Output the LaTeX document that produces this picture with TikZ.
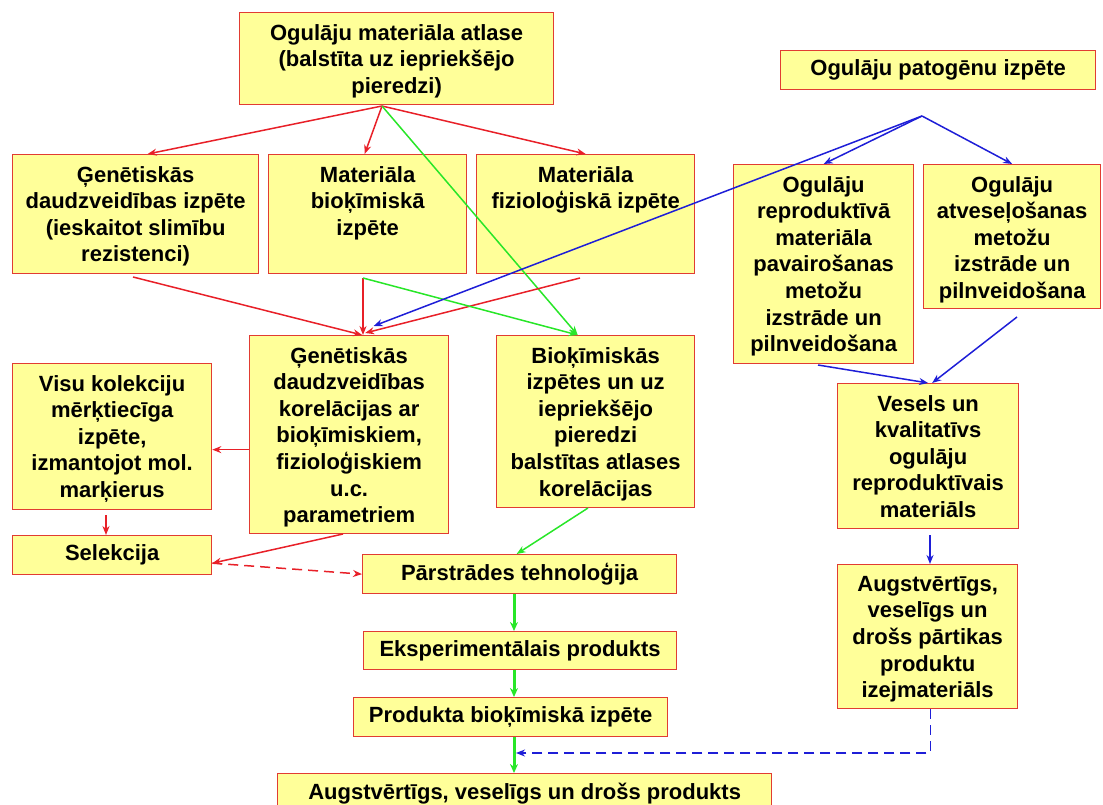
\documentclass[tikz,border=0pt]{standalone}
\usepackage{fontspec}
\setmainfont{Liberation Sans}
\usetikzlibrary{arrows.meta}
\definecolor{boxfill}{RGB}{255,255,153}
\definecolor{boxline}{RGB}{225,60,50}
\definecolor{lred}{RGB}{232,32,40}
\definecolor{lgreen}{RGB}{40,230,40}
\definecolor{lblue}{RGB}{30,30,215}
\begin{document}
\begin{tikzpicture}[x=1pt,y=-1pt,
  box/.style={draw=boxline, fill=boxfill, line width=1.3pt, inner sep=0pt, anchor=north west},
  txt/.style={font=\fontsize{22}{26.6}\selectfont\bfseries, align=center, inner sep=0pt, anchor=north},
  ctxt/.style={font=\fontsize{22}{26.6}\selectfont\bfseries, align=center, inner sep=0pt},
  tipa/.style={-{Stealth[length=9pt,width=7pt]}},
  redar/.style={tipa, draw=lred, line width=1.5pt},
  greenar/.style={tipa, draw=lgreen, line width=1.5pt},
  greenthick/.style={-{Stealth[length=9pt,width=8pt]}, draw=lgreen, line width=3pt},
  bluear/.style={tipa, draw=lblue, line width=1.5pt},
  dashpat/.style={dash pattern=on 10pt off 6pt}
]
\useasboundingbox (0,0) rectangle (1103,805);
\clip (0,0) rectangle (1103,805);

% boxes
\node[box, minimum width=314pt, minimum height=92pt] (top) at (239,12) {};
\node[txt] (topt) at ([yshift=-12pt]top.north) {Ogulāju materiāla atlase\\(balstīta uz iepriekšējo\\pieredzi)};

\node[box, minimum width=315pt, minimum height=39pt] (pat) at (780,50) {};
\node[ctxt] (patt) at (pat.center) {Ogulāju patogēnu izpēte};

\node[box, minimum width=246pt, minimum height=119pt] (A) at (12,154) {};
\node[txt] (At) at ([yshift=-12pt]A.north) {Ģenētiskās\\daudzveidības izpēte\\(ieskaitot slimību\\rezistenci)};

\node[box, minimum width=198pt, minimum height=119pt] (B) at (268,154) {};
\node[txt] (Bt) at ([yshift=-12pt]B.north) {Materiāla\\bioķīmiskā\\izpēte};

\node[box, minimum width=218pt, minimum height=119pt] (C) at (476,154) {};
\node[txt] (Ct) at ([yshift=-12pt]C.north) {Materiāla\\fizioloģiskā izpēte};

\node[box, minimum width=180pt, minimum height=199pt] (R1) at (733,164) {};
\node[txt] (R1t) at ([yshift=-12pt]R1.north) {Ogulāju\\reproduktīvā\\materiāla\\pavairošanas\\metožu\\izstrāde un\\pilnveidošana};

\node[box, minimum width=177pt, minimum height=144pt] (R2) at (923,164) {};
\node[txt] (R2t) at ([yshift=-12pt]R2.north) {Ogulāju\\atveseļošanas\\metožu\\izstrāde un\\pilnveidošana};

\node[box, minimum width=199pt, minimum height=198pt] (K) at (249,335) {};
\node[txt] (Kt) at ([yshift=-12pt]K.north) {Ģenētiskās\\daudzveidības\\korelācijas ar\\bioķīmiskiem,\\fizioloģiskiem\\u.c.\\parametriem};

\node[box, minimum width=198pt, minimum height=172pt] (Bio) at (496,335) {};
\node[txt] (Biot) at ([yshift=-12pt]Bio.north) {Bioķīmiskās\\izpētes un uz\\iepriekšējo\\pieredzi\\balstītas atlases\\korelācijas};

\node[box, minimum width=199pt, minimum height=146pt] (Visu) at (12,363) {};
\node[txt] (Visut) at ([yshift=-12pt]Visu.north) {Visu kolekciju\\mērķtiecīga\\izpēte,\\izmantojot mol.\\marķierus};

\node[box, minimum width=199pt, minimum height=39pt] (Sel) at (12,535) {};
\node[ctxt] (Selt) at (Sel.center) {Selekcija};

\node[box, minimum width=314pt, minimum height=39pt] (Pars) at (362,554) {};
\node[ctxt] (Parst) at (Pars.center) {Pārstrādes tehnoloģija};

\node[box, minimum width=313pt, minimum height=38pt] (Eksp) at (363,631) {};
\node[ctxt] (Ekspt) at (Eksp.center) {Eksperimentālais produkts};

\node[box, minimum width=314pt, minimum height=39pt] (Prod) at (353,697) {};
\node[ctxt] (Prodt) at (Prod.center) {Produkta bioķīmiskā izpēte};

\node[box, minimum width=494pt, minimum height=40pt] (Fin) at (277,773) {};
\node[ctxt] (Fint) at (Fin.center) {Augstvērtīgs, veselīgs un drošs produkts};

\node[box, minimum width=181pt, minimum height=145pt] (Ves) at (837,383) {};
\node[txt] (Vest) at ([yshift=-12pt]Ves.north) {Vesels un\\kvalitatīvs\\ogulāju\\reproduktīvais\\materiāls};

\node[box, minimum width=180pt, minimum height=144pt] (Izej) at (837,564) {};
\node[txt] (Izejt) at ([yshift=-12pt]Izej.north) {Augstvērtīgs,\\veselīgs un\\drošs pārtikas\\produktu\\izejmateriāls};

% free ends
\coordinate (ap1) at (382,106);
\coordinate (a1) at (133,277);
\coordinate (b1) at (363,278);
\coordinate (c1) at (580,278);
\coordinate (p1) at (922,116);
\coordinate (r1) at (818,365);
\coordinate (r2) at (1017,317);
\coordinate (v1) at (930,535);
\coordinate (vs) at (106,515);
\coordinate (kb) at (343,534);
\coordinate (bb) at (588,508);
\coordinate (gx) at (514,0);
\coordinate (bd) at (516,753);

% from the top box
\draw[redar] (ap1) -- ([xshift=12pt]A.north);
\draw[redar] (ap1) -- ([xshift=-3pt]B.north);
\draw[redar] (ap1) -- (C.north);
\draw[greenar] (ap1) -- ([xshift=-18pt]Bio.north);

% row 2 to row 3
\draw[redar] (a1) -- ([xshift=13pt]K.north);
\draw[redar] (b1) -- (b1 |- K.north);
\draw[redar] (c1) -- ([xshift=16pt,yshift=2pt]K.north);
\draw[greenar] (b1) -- ([xshift=-18pt]Bio.north);

% pathogens
\draw[bluear] (p1) -- ([xshift=24.5pt,yshift=9pt]K.north);
\draw[bluear] (p1) -- (R1.north);
\draw[bluear] (p1) -- (R2.north);
\draw[bluear] (r1) -- (Ves.north);
\draw[bluear] (r2) -- ([xshift=4pt]Ves.north);
\draw[bluear] (v1) -- (v1 |- Izej.north);

% left column
\draw[redar] ([yshift=-15pt]K.west) -- ([yshift=-15pt]K.west -| Visu.east);
\draw[redar] (vs) -- (vs |- Sel.north);
\draw[redar] (kb) -- ([yshift=-8pt]Sel.east);
\draw[redar, dashpat] ([yshift=-8pt]Sel.east) -- (Pars.west);

% main green flow
\draw[greenar] (bb) -- ([xshift=-3pt]Pars.north);
\draw[greenthick] (gx |- Pars.south) -- (gx |- Eksp.north);
\draw[greenthick] (gx |- Eksp.south) -- (gx |- Prod.north);
\draw[greenthick] (gx |- Prod.south) -- (gx |- Fin.north);

% dashed blue return
\draw[bluear, dashpat] ([xshift=3pt]Izej.south) |- (bd);
\end{tikzpicture}
\end{document}
